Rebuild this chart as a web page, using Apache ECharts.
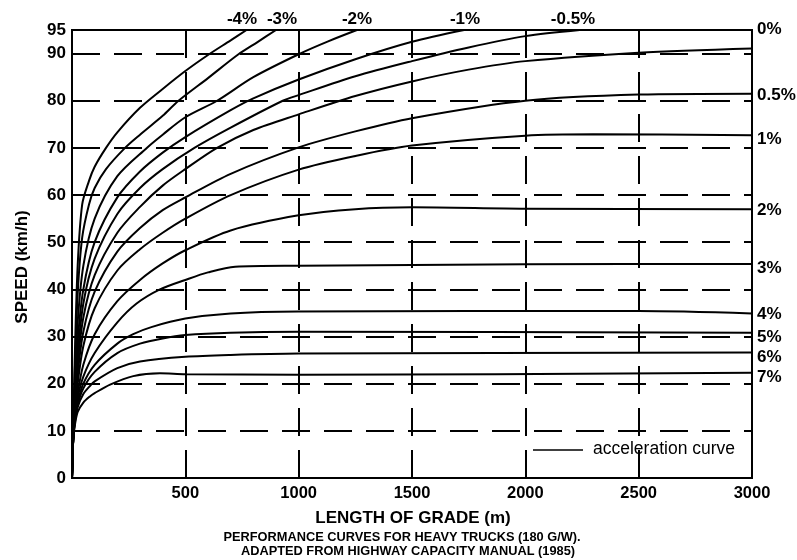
<!DOCTYPE html>
<html>
<head>
<meta charset="utf-8">
<script src="https://cdn.jsdelivr.net/npm/echarts/dist/echarts.min.js"></script>
<style>
html,body{margin:0;padding:0;background:#fff;}
#chart{width:797px;height:560px;}
</style>
</head>
<body>
<div id="chart"></div>
<script>
// ---- data: [length of grade (m), speed (km/h)] ----
const gradeM4  = [[0,0],[5,9],[12,25],[25,45],[45,58],[75,63],[100,66],[150,70],[200,73.3],[300,78.5],[400,82.5],[500,86.3],[600,89.7],[700,92.8],[770,95]];
const gradeM3  = [[0,0],[5,9],[12,22],[25,39],[45,51],[75,58],[100,61.5],[150,65.5],[234,70],[300,72.8],[400,76.8],[470,80],[600,84.8],[733,89.8],[820,92.5],[900,95]];
const gradeM2  = [[0,0],[5,8],[12,19],[25,33],[50,45],[100,55],[200,64],[330,70],[400,72.8],[500,76.5],[640,80],[800,85],[1006,90],[1130,92.6],[1257,95]];
const gradeM1  = [[0,0],[5,8],[12,17],[25,29],[50,40],[100,50],[200,59.5],[300,65],[400,69],[500,72.3],[700,78],[800,80.5],[1000,84.5],[1250,88.8],[1500,92.5],[1730,95]];
const gradeM05 = [[0,0],[5,8],[12,16],[25,26],[50,37],[100,46.5],[200,56],[300,61.5],[400,65.5],[540,70],[700,74.3],[930,80],[1000,81.2],[1250,85.2],[1500,88.4],[1750,91.3],[2000,93.7],[2240,95]];
const grade0   = [[0,0],[5,8],[12,15],[25,24],[50,34],[100,43],[200,52],[300,57.5],[400,62],[500,65.5],[640,70],[800,73.8],[1000,77.1],[1250,81],[1500,84.1],[1750,86.6],[2000,88.4],[2500,90.2],[3000,91.1]];
const gradeP05 = [[0,0],[5,8],[12,14],[25,22],[50,31],[100,39.5],[200,48],[300,53],[400,56.8],[500,59.5],[700,64.5],[1000,70.1],[1250,73.5],[1500,76.3],[2000,80],[2500,81.3],[3000,81.5]];
const gradeP1  = [[0,0],[5,8],[12,13.5],[25,20],[50,28],[100,36],[200,44],[300,48.5],[400,52],[500,55],[700,60],[1000,65.4],[1250,68.3],[1500,70.5],[2000,72.6],[2300,72.9],[3000,72.7]];
const gradeP2  = [[0,0],[5,8],[12,13],[25,18],[50,24],[100,30.5],[200,37.5],[300,42],[400,45.5],[500,48.3],[700,52.5],[1000,55.7],[1250,57],[1500,57.4],[2000,57.1],[3000,57]];
const gradeP3  = [[0,0],[5,8],[12,12.5],[25,17],[50,21.5],[100,26.5],[200,33],[285,37],[388,40],[500,42],[600,43.6],[720,44.8],[1000,45],[2000,45.3],[3000,45.4]];
const gradeP4  = [[0,0],[5,8],[12,12],[25,16],[50,20],[100,24],[200,28.5],[270,30.5],[350,32],[500,33.8],[700,34.9],[1000,35.3],[2500,35.4],[3000,34.9]];
const gradeP5  = [[0,0],[5,8],[12,12],[25,15.5],[50,19],[100,22.5],[200,26.5],[300,28.5],[400,29.6],[500,30.3],[700,30.8],[1000,31],[3000,30.8]];
const gradeP6  = [[0,0],[5,8],[12,11.5],[25,15],[50,17.8],[79,19.5],[100,20.5],[200,23.3],[300,24.7],[500,25.7],[700,26.1],[1000,26.4],[3000,26.6]];
const gradeP7  = [[0,0],[5,8],[12,11],[25,14],[50,16],[79,17.3],[100,18],[168,19.8],[270,21.6],[388,22.2],[500,22],[1000,21.9],[3000,22.3]];

const curveNames = ['-4%','-3%','-2%','-1%','-0.5%','0%','0.5%','1%','2%','3%','4%','5%','6%','7%'];
const curveData  = [gradeM4,gradeM3,gradeM2,gradeM1,gradeM05,grade0,gradeP05,gradeP1,gradeP2,gradeP3,gradeP4,gradeP5,gradeP6,gradeP7];

const yTicks = [0,10,20,30,40,50,60,70,80,90,95];
const xTicks = [500,1000,1500,2000,2500,3000];

const xAxisTitle = 'LENGTH OF GRADE (m)';
const yAxisTitle = 'SPEED (km/h)';
const captionLine1 = 'PERFORMANCE CURVES FOR HEAVY TRUCKS (180 G/W).';
const captionLine2 = 'ADAPTED FROM HIGHWAY CAPACITY MANUAL (1985)';
const legendText = 'acceleration curve';

const FONT = '"Liberation Sans", Arial, sans-serif';

const chart = echarts.init(document.getElementById('chart'), null, {renderer:'canvas'});

const series = curveData.map((d, i) => ({
  name: curveNames[i],
  type: 'line',
  data: d,
  showSymbol: false,
  smooth: 0.3,
  lineStyle: {color:'#000', width:2},
  clip: true,
  silent: true,
  z: 3
}));

function txt(text, x, y, size, opts) {
  opts = opts || {};
  return {
    type: 'text', x: x, y: y, rotation: opts.rotation || 0, z: 10,
    style: {
      text: text, fill: '#000',
      font: (opts.weight || 'bold') + ' ' + size + 'px ' + FONT,
      align: opts.align || 'center', verticalAlign: 'middle',
      textAlign: opts.align || 'center', textVerticalAlign: 'middle'
    }
  };
}

const gridL = 72, gridR = 45, gridT = 30, gridB = 82;

const rightLabels = [['0%',29],['0.5%',95],['1%',139],['2%',210],['3%',268],['4%',314],['5%',337],['6%',357],['7%',377]];
const topLabels = [['-4%',242],['-3%',282],['-2%',357],['-1%',465],['-0.5%',573]];

const graphics = [];
rightLabels.forEach(r => graphics.push(txt(r[0], 757, r[1], 17, {align:'left'})));
topLabels.forEach(t => graphics.push(txt(t[0], t[1], 19, 17)));
graphics.push(txt(yAxisTitle, 22, 267, 17, {rotation: Math.PI/2}));
graphics.push(txt(xAxisTitle, 413, 518, 17));
graphics.push(txt(captionLine1, 402, 537, 12.8));
graphics.push(txt(captionLine2, 408, 551, 12.8));
graphics.push({type:'line', z:10, shape:{x1:533, y1:450, x2:583, y2:450}, style:{stroke:'#000', lineWidth:1.5}});
graphics.push(txt(legendText, 593, 449, 17.5, {align:'left', weight:'normal'}));

chart.setOption({
  animation: false,
  backgroundColor: '#fff',
  grid: {left: gridL, right: gridR, top: gridT, bottom: gridB, show: true, borderColor:'#000', borderWidth: 2, backgroundColor:'transparent'},
  xAxis: {
    type: 'value', min: 0, max: 3000, interval: 500,
    axisLine: {show: true, lineStyle: {color:'#000', width: 2}},
    axisTick: {show: false},
    axisLabel: {
      color:'#000', fontFamily: FONT, fontWeight:'bold', fontSize: 16.5, margin: 7,
      customValues: xTicks,
      formatter: v => String(v)
    },
    splitLine: {show: true, lineStyle: {color:'#000', width: 2, type: [28, 14]}}
  },
  yAxis: {
    type: 'value', min: 0, max: 95, interval: 10,
    axisLine: {show: true, lineStyle: {color:'#000', width: 2}},
    axisTick: {show: false},
    axisLabel: {
      color:'#000', fontFamily: FONT, fontWeight:'bold', fontSize: 17, margin: 6,
      customValues: yTicks,
      formatter: v => String(v)
    },
    splitLine: {show: true, lineStyle: {color:'#000', width: 2, type: [28, 14]}}
  },
  series: series,
  graphic: graphics
});
</script>
</body>
</html>
